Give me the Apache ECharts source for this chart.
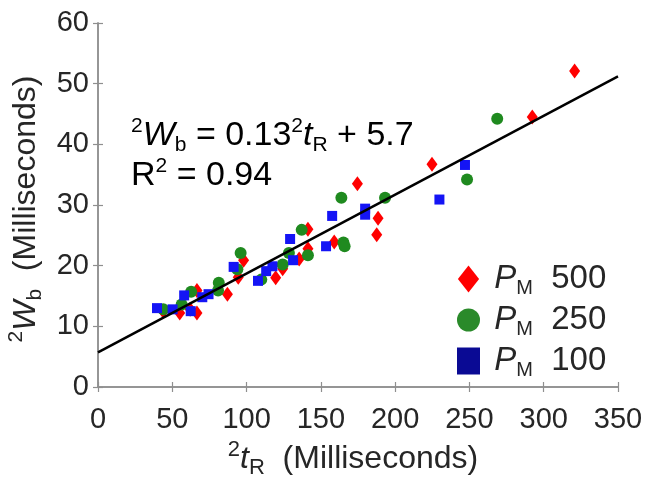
<!DOCTYPE html>
<html>
<head>
<meta charset="utf-8">
<script src="https://cdn.jsdelivr.net/npm/echarts@6/dist/echarts.min.js"></script>
<style>html,body{margin:0;padding:0;background:#fff}#c{width:646px;height:479px}</style>
</head>
<body>
<div id="c"></div>
<script>
// ---- data ----
const xTicks = [0, 50, 100, 150, 200, 250, 300, 350];
const yTicks = [0, 10, 20, 30, 40, 50, 60];
const seriesNames = ['500', '250', '100'];
const red500X = [320.8, 292.3, 224.8, 174.6, 188.5, 187.6, 159.0, 141.3, 141.3, 135.4, 124.3, 119.6, 98.0, 94.4, 87.1, 66.6, 66.6, 55.0, 62.0, 43.9];
const red500Y = [52.1, 44.5, 36.7, 33.5, 27.8, 25.1, 23.9, 26.0, 22.8, 21.1, 19.5, 18.0, 20.9, 18.1, 15.3, 12.2, 15.9, 12.2, 12.8, 12.5];
const green250X = [268.7, 248.4, 193.2, 163.8, 165.2, 166.0, 137.1, 141.3, 124.3, 128.5, 96.0, 93.8, 109.9, 81.3, 80.8, 62.7, 56.3, 43.9];
const green250Y = [44.2, 34.2, 31.2, 31.2, 23.8, 23.2, 25.9, 21.7, 20.2, 22.1, 22.1, 19.4, 17.7, 17.2, 15.9, 15.7, 13.6, 12.8];
const blue100X = [247.0, 229.8, 179.8, 179.8, 157.6, 153.5, 129.3, 131.3, 117.4, 113.2, 107.7, 91.3, 74.4, 70.2, 58.0, 62.4, 50.2, 39.7];
const blue100Y = [36.6, 30.9, 29.4, 28.4, 28.2, 23.2, 24.4, 20.9, 19.9, 19.1, 17.5, 19.8, 15.3, 14.8, 15.1, 12.5, 12.8, 13.0];
const fitX = [0, 350];
const fitY = [5.7, 51.2];

const pairs = (xs, ys) => xs.map((x, i) => [x, ys[i]]);
const FONT = 'Liberation Sans';
const TXT = '#262626';
const AX = '#8f8f8f';

const richBase = (size, ratio) => ({
  n: {fontSize: size, fontFamily: FONT, color: TXT},
  it: {fontSize: size, fontFamily: FONT, color: TXT, fontStyle: 'italic'},
  sup: {fontSize: Math.round(size * (ratio || 0.62)), fontFamily: FONT, color: TXT, verticalAlign: 'top'},
  sub: {fontSize: Math.round(size * (ratio || 0.62)), fontFamily: FONT, color: TXT, verticalAlign: 'bottom'}
});

const baseAxis = {
  axisLine: {show: true, lineStyle: {color: AX, width: 1.5}},
  axisTick: {show: true, inside: true, length: 5, lineStyle: {color: AX, width: 1.2}},
  splitLine: {show: false}
};

const chart = echarts.init(document.getElementById('c'));
chart.setOption({
  animation: false,
  backgroundColor: '#fff',
  grid: {left: 98, right: 28, top: 23, bottom: 92, containLabel: false, outerBoundsMode: 'none'},
  xAxis: [
    Object.assign({}, baseAxis, {
      type: 'value', min: 0, max: 350, interval: 50, position: 'bottom',
      axisLabel: {fontSize: 29, fontFamily: FONT, color: TXT, margin: 18,
        formatter: v => xTicks.includes(v) ? String(v) : ''},
      name: '{sup|2}{it|t}{sub|R}{n|  (Milliseconds)}',
      nameLocation: 'middle', nameGap: 50,
      nameTextStyle: {rich: richBase(32, 0.7), lineHeight: 40, padding: [0, 10, 0, 0]}
    }),
    Object.assign({}, baseAxis, {
      type: 'value', min: 0, max: 350, interval: 50, position: 'top',
      axisLabel: {show: false}
    })
  ],
  yAxis: [
    Object.assign({}, baseAxis, {
      type: 'value', min: 0, max: 60, interval: 10, position: 'left',
      axisLabel: {fontSize: 29, fontFamily: FONT, color: TXT, margin: 9,
        formatter: v => yTicks.includes(v) ? String(v) : ''},
      name: '{sup|2}{it|W}{sub|b}{n|  (Milliseconds)}',
      nameLocation: 'middle', nameGap: 49, nameRotate: 90,
      nameTextStyle: {rich: richBase(32, 0.65), lineHeight: 40, padding: [0, 8, 0, 0]}
    }),
    Object.assign({}, baseAxis, {
      type: 'value', min: 0, max: 60, interval: 10, position: 'right',
      axisLabel: {show: false}
    })
  ],
  legend: {
    orient: 'vertical', left: 452, top: 255, itemWidth: 23, itemHeight: 27, itemGap: 3,
    data: [
      {name: '500', icon: 'path://M0,-14L11,0L0,14L-11,0Z', itemStyle: {color: '#ff0000', opacity: 1}},
      {name: '250', icon: 'circle', itemStyle: {color: '#2a8a2a', opacity: 1}},
      {name: '100', icon: 'rect', itemStyle: {color: '#0a0a94', opacity: 1}}
    ],
    formatter: name => '{n| }{it|P}{sub|M}{n|  ' + name + '}',
    textStyle: {rich: richBase(33, 0.6), lineHeight: 38}
  },
  graphic: [
    {type: 'text', x: 131, y: 136,
      style: {text: '{sup|2}{it|W}{sub|b}{n| = 0.13}{sup|2}{it|t}{sub|R}{n| + 5.7}', rich: richBase(34), lineHeight: 40, verticalAlign: 'middle'}},
    {type: 'text', x: 131, y: 176,
      style: {text: '{n|R}{sup|2}{n| = 0.94}', rich: richBase(34), lineHeight: 40, verticalAlign: 'middle'}}
  ],
  series: [
    {name: seriesNames[0], type: 'scatter', symbol: 'diamond', symbolSize: [11, 15],
      itemStyle: {color: '#ff0000', opacity: 1}, data: pairs(red500X, red500Y), z: 2},
    {name: seriesNames[1], type: 'scatter', symbol: 'circle', symbolSize: 12,
      itemStyle: {color: '#1f8a1f', opacity: 1}, data: pairs(green250X, green250Y), z: 3},
    {name: seriesNames[2], type: 'scatter', symbol: 'rect', symbolSize: 10,
      itemStyle: {color: '#1414f5', opacity: 1}, data: pairs(blue100X, blue100Y), z: 4},
    {name: 'fit', type: 'line', data: pairs(fitX, fitY), showSymbol: false, symbol: 'none',
      lineStyle: {color: '#000', width: 2.5}, z: 5, silent: true}
  ]
});
</script>
</body>
</html>
